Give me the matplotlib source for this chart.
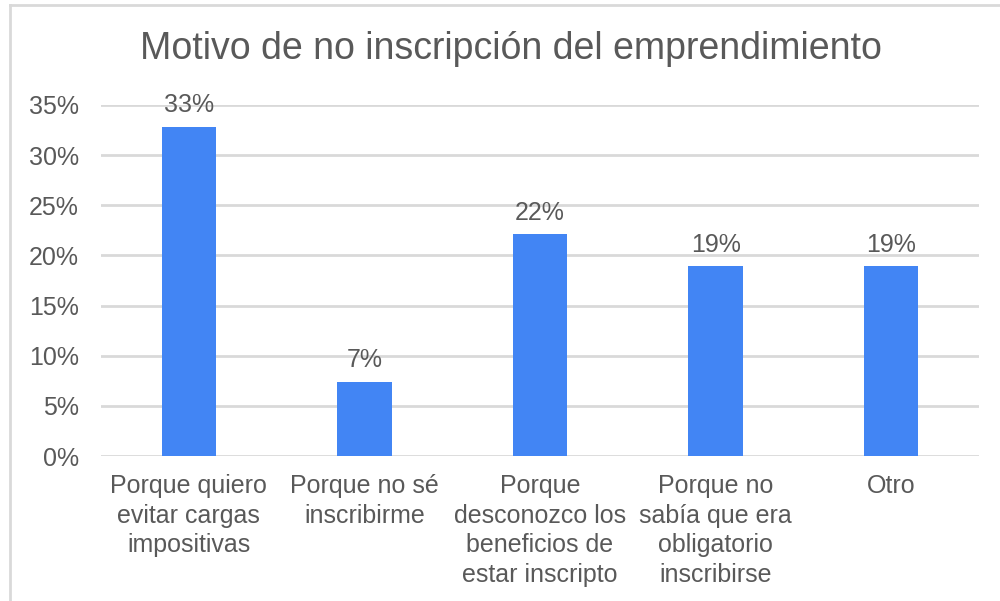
import matplotlib
matplotlib.use("Agg")
import matplotlib.pyplot as plt
from matplotlib.lines import Line2D
from matplotlib.ticker import FuncFormatter

categories = [
    "Porque quiero\nevitar cargas\nimpositivas",
    "Porque no sé\ninscribirme",
    "Porque\ndesconozco los\nbeneficios de\nestar inscripto",
    "Porque no\nsabía que era\nobligatorio\ninscribirse",
    "Otro",
]
values = [0.328, 0.074, 0.221, 0.189, 0.189]
yticks = [0, 0.05, 0.10, 0.15, 0.20, 0.25, 0.30, 0.35]
title = "Motivo de no inscripción del emprendimiento"

plt.rcParams['font.family'] = ['Liberation Sans', 'DejaVu Sans']
text_color = "#595959"
bar_color = "#4285F4"
grid_color = "#d9d9d9"

fig = plt.figure(figsize=(10, 6.01), dpi=100)
ax = fig.add_axes([0.101, 1 - 456 / 601, 0.878, (456 - 105) / 601])

x = list(range(len(categories)))
bars = ax.bar(x, values, width=0.31, color=bar_color, zorder=3)
for xi, v in zip(x, values):
    ax.annotate(f"{round(v*100):d}%", (xi, v), xytext=(0, 7), textcoords="offset points",
                ha="center", va="bottom", fontsize=18, color=text_color)

ax.set_xlim(-0.5, len(categories) - 0.5)
ax.set_ylim(0, 0.35)
ax.set_yticks(yticks)
ax.yaxis.set_major_formatter(FuncFormatter(lambda v, p: f"{round(v*100):d}%"))
ax.set_xticks(x)
ax.set_xticklabels(categories, fontsize=18, color=text_color, linespacing=1.3)
ax.tick_params(axis='y', labelsize=18, labelcolor=text_color, length=0, pad=16)
ax.tick_params(axis='x', length=0, pad=13)
ax.grid(axis='y', color=grid_color, linewidth=2, zorder=0)
for s in ax.spines.values():
    s.set_visible(False)

fig.text(0.511, 1 - 49 / 601, title, ha="center", va="center", fontsize=27, color=text_color)

# outer frame lines (top and left)
fig.add_artist(Line2D([10 / 1000, 1.0], [1 - 5 / 601, 1 - 5 / 601], color=grid_color, linewidth=2, transform=fig.transFigure))
fig.add_artist(Line2D([10 / 1000, 10 / 1000], [0, 1 - 5 / 601], color=grid_color, linewidth=2, transform=fig.transFigure))

fig.savefig("out.png", dpi=100)
